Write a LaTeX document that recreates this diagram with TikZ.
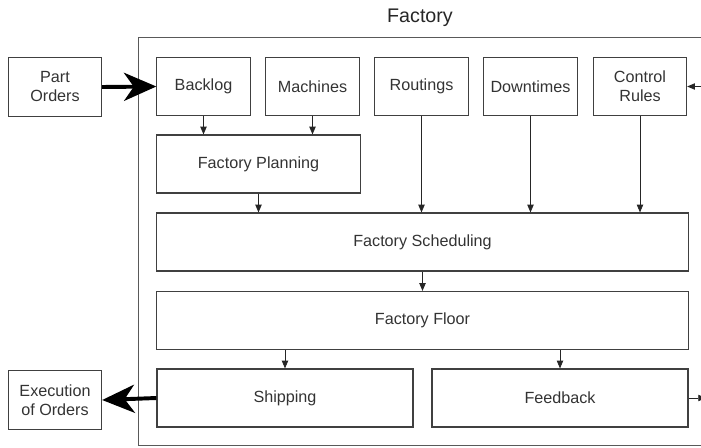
\documentclass[tikz,border=0pt]{standalone}
\usepackage{fontspec}
\setmainfont{Liberation Sans}
\usepackage{xcolor}
\usetikzlibrary{positioning, arrows.meta}

\tikzset{
  blockbox/.style={draw=black!75, line width=0.8pt, text=black!80, align=center,
    font=\fontsize{11.5}{13.5}\selectfont, inner sep=2pt},
  smallbox/.style={blockbox, minimum width=2.33cm, minimum height=1.47cm},
  planbox/.style={blockbox, minimum width=5.08cm, minimum height=1.45cm},
  longbox/.style={blockbox, minimum width=13.28cm, minimum height=1.45cm},
  halfbox/.style={blockbox, minimum width=6.4cm, minimum height=1.45cm},
  thinarrow/.style={draw=black!85, line width=0.6pt, -{Triangle[length=5.5pt, width=4.5pt]}},
  bigarrow/.style={draw=black, line width=2.8pt, -{Stealth[length=23pt, width=20pt, inset=7pt]}}
}

\begin{document}
\begin{tikzpicture}[x=0.025cm, y=-0.025cm]
  \useasboundingbox (0,0) rectangle (701,447);

  % Rahmen
  \draw[black!65, line width=0.6pt] (720,37) -- (138,37) -- (138,445) -- (720,445);
  \node[font=\fontsize{14}{16}\selectfont, text=black!85] (title) at (420,18) {Factory};

  % Eingaben
  \node[smallbox] (partorders) at (55,87) {Part\\Orders};
  \node[smallbox] (execution) at (55,400) {Execution\\of Orders};

  \node[smallbox] (backlog) at (203.5,86.5) {Backlog};
  \node[smallbox] (machines) at (312.5,86.5) {Machines};
  \node[smallbox] (routings) at (421.5,86.5) {Routings};
  \node[smallbox] (downtimes) at (530.5,86.5) {Downtimes};
  \node[smallbox] (control) at (640,86.5) {Control\\Rules};

  % Stufen
  \node[planbox] (planning) at (258.5,164) {Factory Planning};
  \node[longbox] (scheduling) at (422.5,242) {Factory Scheduling};
  \node[longbox] (floor) at (422.5,320.5) {Factory Floor};
  \node[halfbox] (shipping) at (285,398) {Shipping};
  \node[halfbox] (feedback) at (560,398) {Feedback};

  \coordinate (rightin) at (702,86.5);
  \coordinate (rightout) at (706,398);

  % Pfeile
  \draw[bigarrow] (partorders.east) -- (backlog.west);
  \draw[bigarrow] (shipping.west) -- (execution.east);

  \draw[thinarrow] (backlog.south) -- (backlog.south |- planning.north);
  \draw[thinarrow] (machines.south) -- (machines.south |- planning.north);
  \draw[thinarrow] (planning.south) -- (planning.south |- scheduling.north);
  \draw[thinarrow] (routings.south) -- (routings.south |- scheduling.north);
  \draw[thinarrow] (downtimes.south) -- (downtimes.south |- scheduling.north);
  \draw[thinarrow] (control.south) -- (control.south |- scheduling.north);
  \draw[thinarrow] (scheduling.south) -- (floor.north);
  \draw[thinarrow] (floor.south -| shipping.north) -- (shipping.north);
  \draw[thinarrow] (floor.south -| feedback.north) -- (feedback.north);
  \draw[thinarrow] (rightin) -- (control.east);
  \draw[thinarrow] (feedback.east) -- (rightout);
\end{tikzpicture}
\end{document}
